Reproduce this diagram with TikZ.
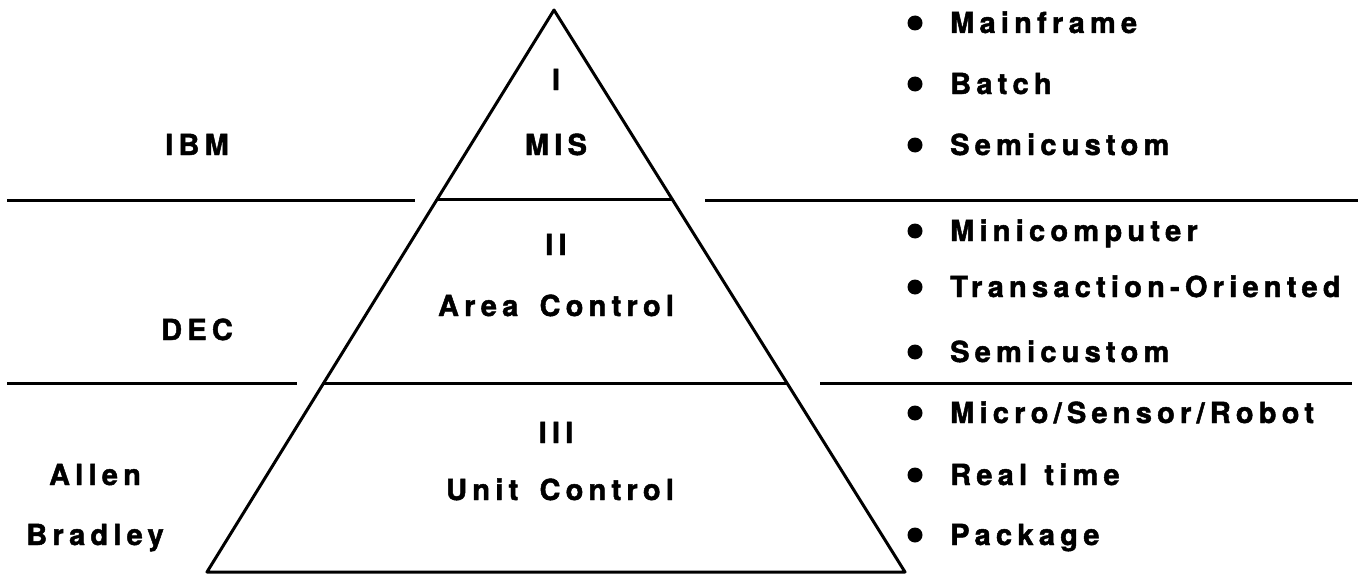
\documentclass[tikz,border=0pt]{standalone}
\usepackage{fontspec}
\setmainfont{TeX Gyre Heros}[LetterSpace=18,BoldFeatures={FakeBold=1.6}]
\usetikzlibrary{calc}
\tikzset{lbl/.style={font=\fontsize{29}{34}\selectfont\bfseries,inner sep=0pt},
	rule/.style={line width=3pt}}

\begin{document}
\begin{tikzpicture}[x=1pt,y=-1pt]
\useasboundingbox (0,0) rectangle (1360,578);
\coordinate[] (T) at (554,10);
\coordinate[] (L) at (207,572);
\coordinate[] (R) at (905,572);
\coordinate[] (L1) at ($(T)!0.338!(L)$);
\coordinate[] (R1) at ($(T)!0.338!(R)$);
\coordinate[] (L2) at ($(T)!0.664!(L)$);
\coordinate[] (R2) at ($(T)!0.664!(R)$);
\coordinate[] (A1) at (7,200);
\coordinate[] (B1) at (415,200);
\coordinate[] (C1) at (705,200);
\coordinate[] (D1) at (1358,200);
\coordinate[] (A2) at (7,383);
\coordinate[] (B2) at (297,383);
\coordinate[] (C2) at (820,383);
\coordinate[] (D2) at (1352,383);
\draw [rule,line join=round] (T) -- (L) -- (R) -- cycle;
\draw [rule] (L1) -- (R1);
\draw [rule] (L2) -- (R2);
\draw [rule] (A1) -- (B1);
\draw [rule] (C1) -- (D1);
\draw [rule] (A2) -- (B2);
\draw [rule] (C2) -- (D2);
% levels
\node[lbl,anchor=base] (one) at (556,90) {I};
\node[lbl,anchor=base] (mis) at (556,155) {MIS};
\node[lbl,anchor=base] (two) at (556,255) {II};
\node[lbl,anchor=base] (area) at (556,316) {Area\hspace{8pt} Control};
\node[lbl,anchor=base] (three) at (556,443) {III};
\node[lbl,anchor=base] (unit) at (560,500) {Unit\hspace{8pt} Control};
% vendors
\node[lbl,anchor=base] (ibm) at (197,155) {IBM};
\node[lbl,anchor=base] (dec) at (197,340) {DEC};
\node[lbl,anchor=base] (allen) at (95,485) {Allen};
\node[lbl,anchor=base] (bradley) at (95,545) {Bradley};
% features
\foreach \y/\t [count=\i] in {33/{Mainframe},94/{Batch},155/{Semicustom},
	241/{Minicomputer},297/{Transaction-Oriented},362/{Semicustom},
	423/{Micro/Sensor/Robot},485/{Real\hspace{4pt} time},545/{Package}}
{
	\fill (915,\y-10) circle (7.5);
	\node[lbl,anchor=base west] (item\i) at (950,\y) {\t};
}
\end{tikzpicture}
\end{document}
